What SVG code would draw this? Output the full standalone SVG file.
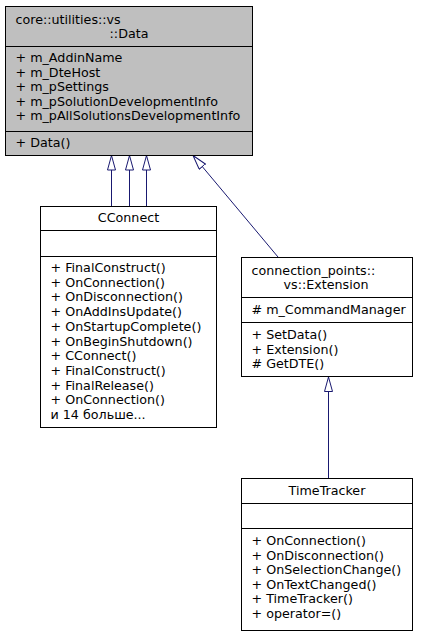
<svg xmlns="http://www.w3.org/2000/svg" width="423" height="635" viewBox="0 0 423 635">
<style>
.box{stroke:#000;stroke-width:1;fill:#fff}
.grey{fill:#bfbfbf}
.sep{stroke:#000;stroke-width:1}
text{font-family:"DejaVu Sans",Verdana,sans-serif;font-size:12.7px;fill:#000}
.c{text-anchor:middle}
.edge{stroke:#191970;stroke-width:1;fill:none;marker-end:url(#inh)}
</style>
<defs>
<marker id="inh" viewBox="0 0 15 9" refX="15" refY="4.5" markerWidth="15" markerHeight="9" markerUnits="userSpaceOnUse" orient="auto">
<path d="M0.5,0.5 L15,4.5 L0.5,8.5 z" fill="#fff" stroke="#191970" stroke-width="1"/>
</marker>
</defs>
<g id="connectors">
<path class="edge" d="M111.5,206 L111.5,155.5"/>
<path class="edge" d="M129.5,206 L129.5,155.5"/>
<path class="edge" d="M146.5,206 L146.5,155.5"/>
<path class="edge" d="M278,257 L193,155.5"/>
<path class="edge" d="M328.5,478 L328.5,377"/>
</g>
<g id="node-data">
<rect class="box grey" x="5.5" y="6.5" width="247" height="149"/>
<line class="sep" x1="5.5" y1="46.5" x2="252.5" y2="46.5"/>
<line class="sep" x1="5.5" y1="131.5" x2="252.5" y2="131.5"/>
<text x="15.5" y="24">core::utilities::vs</text>
<text class="c" x="129" y="38">::Data</text>
<text x="15.5" y="62">+ m_AddinName</text>
<text x="15.5" y="76.6">+ m_DteHost</text>
<text x="15.5" y="91.2">+ m_pSettings</text>
<text x="15.5" y="105.8">+ m_pSolutionDevelopmentInfo</text>
<text x="15.5" y="120.4">+ m_pAllSolutionsDevelopmentInfo</text>
<text x="15.5" y="147">+ Data()</text>
</g>
<g id="node-cconnect">
<rect class="box" x="40.5" y="206.5" width="176" height="221"/>
<line class="sep" x1="40.5" y1="230.5" x2="216.5" y2="230.5"/>
<line class="sep" x1="40.5" y1="256.5" x2="216.5" y2="256.5"/>
<text class="c" x="128.5" y="222">CConnect</text>
<text x="50.5" y="272">+ FinalConstruct()</text>
<text x="50.5" y="286.7">+ OnConnection()</text>
<text x="50.5" y="301.4">+ OnDisconnection()</text>
<text x="50.5" y="316.1">+ OnAddInsUpdate()</text>
<text x="50.5" y="330.8">+ OnStartupComplete()</text>
<text x="50.5" y="345.5">+ OnBeginShutdown()</text>
<text x="50.5" y="360.2">+ CConnect()</text>
<text x="50.5" y="374.9">+ FinalConstruct()</text>
<text x="50.5" y="389.6">+ FinalRelease()</text>
<text x="50.5" y="404.3">+ OnConnection()</text>
<text x="50.5" y="419">и 14 больше...</text>
</g>
<g id="node-extension">
<rect class="box" x="241.5" y="257.5" width="171" height="119"/>
<line class="sep" x1="241.5" y1="297.5" x2="412.5" y2="297.5"/>
<line class="sep" x1="241.5" y1="322.5" x2="412.5" y2="322.5"/>
<text x="251.5" y="275">connection_points::</text>
<text class="c" x="326" y="289">vs::Extension</text>
<text x="251.5" y="314"># m_CommandManager</text>
<text x="251.5" y="339">+ SetData()</text>
<text x="251.5" y="353.5">+ Extension()</text>
<text x="251.5" y="368">#  GetDTE()</text>
</g>
<g id="node-timetracker">
<rect class="box" x="241.5" y="478.5" width="171" height="152"/>
<line class="sep" x1="241.5" y1="503.5" x2="412.5" y2="503.5"/>
<line class="sep" x1="241.5" y1="528.5" x2="412.5" y2="528.5"/>
<text class="c" x="327" y="495">TimeTracker</text>
<text x="251.5" y="545">+ OnConnection()</text>
<text x="251.5" y="559.6">+ OnDisconnection()</text>
<text x="251.5" y="574.2">+ OnSelectionChange()</text>
<text x="251.5" y="588.8">+ OnTextChanged()</text>
<text x="251.5" y="603.4">+ TimeTracker()</text>
<text x="251.5" y="618">+ operator=()</text>
</g>
</svg>
